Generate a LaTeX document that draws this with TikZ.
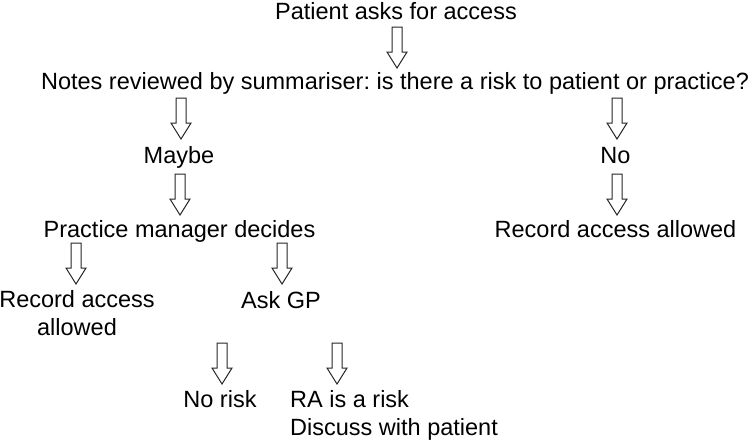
\documentclass[tikz,border=0pt]{standalone}
\usepackage{fontspec}
\setmainfont{Liberation Sans}
\usetikzlibrary{calc}
\frenchspacing
\begin{document}
\begin{tikzpicture}[x=1pt,y=-1pt,
  lbl/.style={inner sep=0pt, font=\fontsize{23.5}{28}\selectfont, align=center},
  barrow/.style={draw=black!85, line width=1pt, fill=white, line join=miter}]
\useasboundingbox (0,0) rectangle (752,440);
\newcommand\blockarrow[1]{%
  \draw[barrow] ($(#1)+(-5,0)$) -- ++(10,0) -- ++(0,25) -- ++(5,0) -- ++(-10,16) -- ++(-10,-16) -- ++(5,0) -- cycle;}
\node[lbl, anchor=base] (start) at (396,19) {Patient asks for access};
\node[lbl, anchor=base] (notes) at (395,89) {Notes reviewed by summariser: is there a risk to patient or practice?};
\node[lbl, anchor=base] (maybe) at (179,163) {Maybe};
\node[lbl, anchor=base] (no) at (615.5,163) {No};
\node[lbl, anchor=base] (pm) at (179.5,237) {Practice manager decides};
\node[lbl, anchor=base] (rec1) at (615.5,237) {Record access allowed};
\node[lbl, anchor=center] (rec2) at (77,313.4) {Record access\\allowed};
\node[lbl, anchor=base] (gp) at (281,308) {Ask GP};
\node[lbl, anchor=base] (norisk) at (220,407) {No risk};
\node[lbl, align=left, anchor=west] (risk) at (290,415) {RA is a risk\\Discuss with patient};
\coordinate (a1) at (397,27);
\coordinate (a2) at (181,98);
\coordinate (a3) at (617,98);
\coordinate (a4) at (180,174);
\coordinate (a5) at (617,174);
\coordinate (a6) at (76,243);
\coordinate (a7) at (282,243);
\coordinate (a8) at (222,343);
\coordinate (a9) at (337,343);
\blockarrow{a1}
\blockarrow{a2}
\blockarrow{a3}
\blockarrow{a4}
\blockarrow{a5}
\blockarrow{a6}
\blockarrow{a7}
\blockarrow{a8}
\blockarrow{a9}
\end{tikzpicture}
\end{document}
